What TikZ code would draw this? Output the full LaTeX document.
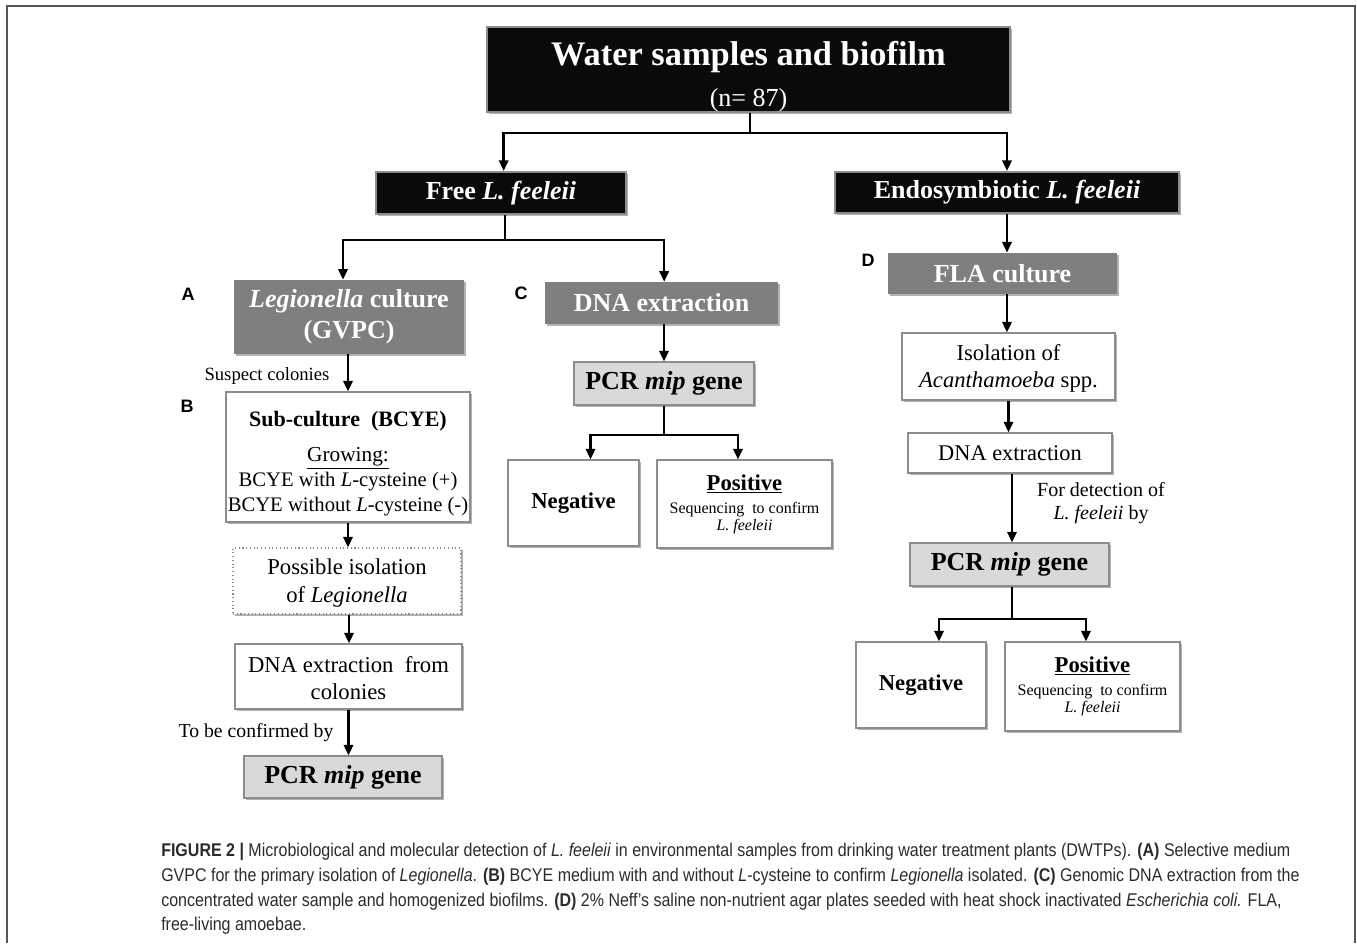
\documentclass[tikz,border=0pt]{standalone}
\usepackage{fontspec}
\setmainfont{Liberation Serif}
\newfontfamily\capfont[FakeStretch=0.87]{Liberation Sans}
\newfontfamily\labfont{Liberation Sans}
\usetikzlibrary{arrows.meta,shadows}
\definecolor{boxblack}{HTML}{0A0A0A}
\definecolor{boxgray}{HTML}{7F7F7F}
\definecolor{boxlight}{HTML}{D9D9D9}
\definecolor{edgegray}{HTML}{8C8C8C}
\definecolor{captext}{HTML}{2B2B2B}
\definecolor{framegray}{HTML}{555555}
\newcommand\fsz[2]{\fontsize{#1}{#2}\selectfont}
\tikzset{
  soft/.style={drop shadow={shadow xshift=1.5pt,shadow yshift=-1.5pt,opacity=0.3,fill=black}},
  blackbox/.style={soft,draw=edgegray,line width=1.5pt,fill=boxblack,text=white,font=\bfseries\fsz{19.5}{23},inner sep=0pt,align=center},
  graybox/.style={soft,fill=boxgray,text=white,font=\bfseries\fsz{19.5}{23.25},inner sep=0pt,align=center},
  lightbox/.style={soft,fill=boxlight,draw=edgegray,line width=0.8pt,font=\bfseries\fsz{19.5}{23},inner sep=0pt,align=center},
  whitebox/.style={soft,fill=white,draw=edgegray,line width=0.8pt,font=\fsz{17}{20.25},inner sep=0pt,align=center},
  dotbox/.style={whitebox,dotted},
  conn/.style={line width=1.8pt},
  arr/.style={line width=1.8pt,-{Triangle[length=8pt,width=7pt]}},
  panel/.style={font=\labfont\bfseries\fsz{13.5}{15}},
  note/.style={font=\fsz{14}{18}},
  capline/.style={anchor=base west,inner sep=0pt,text=captext,font=\capfont\fsz{13.8}{16}}
}
\begin{document}
\begin{tikzpicture}[x=0.75pt,y=-0.75pt]
\useasboundingbox (0,0) rectangle (1357,943);
% frame
\draw[framegray,line width=1.5pt] (7,943) -- (7,6) -- (1355,6) -- (1355,943);

% boxes
\node[blackbox,minimum width=392.25pt,minimum height=63.75pt,font=\bfseries\fsz{25.8}{31}] (top) at (748.5,69.5)
  {\rule{0pt}{29pt}Water samples and biofilm\\{\mdseries\fsz{19.5}{22}(n= 87)}};
\node[blackbox,minimum width=187.5pt,minimum height=31.5pt] (free) at (501,193) {Free \textit{L. feeleii}};
\node[blackbox,minimum width=258pt,minimum height=30.75pt] (endo) at (1007,192.5) {Endosymbiotic \textit{L. feeleii}};

\node[graybox,minimum width=172.5pt,minimum height=55.5pt] (legcult) at (349,317) {\textit{Legionella} culture\\(GVPC)};
\node[graybox,minimum width=174.75pt,minimum height=31.5pt] (dnaC) at (661.5,303) {DNA extraction};
\node[lightbox,minimum width=135pt,minimum height=32.25pt] (pcrC) at (664,383.5) {PCR \textit{mip} gene};
\node[whitebox,minimum width=98.25pt,minimum height=64.5pt,font=\bfseries\fsz{17}{20}] (negC) at (573.5,503) {Negative};
\node[whitebox,minimum width=131.25pt,minimum height=66pt,font=\fsz{12}{12.75}] (posC) at (744.5,504)
  {{\bfseries\fsz{17}{20}\underline{Positive}}\\[4.5pt]Sequencing\ \ to confirm\\\textit{L. feeleii}};

\node[whitebox,minimum width=183pt,minimum height=97.5pt,font=\fsz{15.5}{18.75}] (sub) at (348,457)
  {{\bfseries\fsz{16.5}{20}\rule{0pt}{22pt}Sub-culture\ \ (BCYE)}\\[7.5pt]{\fsz{16}{18.75}\underline{Growing:}}\\BCYE with \textit{L}-cysteine (+)\\BCYE without \textit{L}-cysteine (-)};
\node[dotbox,minimum width=171pt,minimum height=49.5pt,font=\fsz{17}{21}] (poss) at (347,581) {\rule{0pt}{15pt}Possible isolation\\of \textit{Legionella}};
\node[whitebox,minimum width=170.25pt,minimum height=48.75pt] (dnacol) at (348.5,676.5) {\rule{0pt}{14.5pt}DNA extraction\ \ from\\colonies};
\node[lightbox,minimum width=148.5pt,minimum height=31.5pt] (pcrL) at (343,777) {PCR \textit{mip} gene};

\node[graybox,minimum width=171.75pt,minimum height=31pt] (fla) at (1002.5,273.5) {FLA culture};
\node[whitebox,minimum width=159.75pt,minimum height=50.25pt] (acan) at (1008.5,366.5) {\rule{0pt}{15pt}Isolation of\\\textit{Acanthamoeba} spp.};
\node[whitebox,minimum width=153pt,minimum height=30pt,font=\fsz{16.8}{20}] (dnaD) at (1010,453) {DNA extraction};
\node[lightbox,minimum width=149.25pt,minimum height=32.25pt] (pcrD) at (1009.5,564.5) {PCR \textit{mip} gene};
\node[whitebox,minimum width=97.5pt,minimum height=64.5pt,font=\bfseries\fsz{17}{20}] (negD) at (921,685) {Negative};
\node[whitebox,minimum width=131.25pt,minimum height=66.75pt,font=\fsz{12}{12.75}] (posD) at (1092.5,686.5)
  {{\bfseries\fsz{17}{20}\underline{Positive}}\\[4.5pt]Sequencing\ \ to confirm\\\textit{L. feeleii}};

% panel labels
\node[panel] (labA) at (188,294) {A};
\node[panel] (labB) at (187,406) {B};
\node[panel] (labC) at (521,293) {C};
\node[panel] (labD) at (868,260) {D};

% notes
\node[note] (suspect) at (267,376) {Suspect colonies};
\node[note,font=\fsz{14.8}{18}] (confirm) at (256,733) {To be confirmed by};
\node[note,font=\fsz{15}{17.5},align=center] (detect) at (1101,503) {For detection of\\\textit{L. feeleii} by};

% junctions
\coordinate (j1) at (750,133);
\coordinate (j2) at (505,240);
\coordinate (j3) at (664,435);
\coordinate (j4) at (1012,619);

% connectors
\draw[conn] (top.south -| j1) -- (j1);
\draw[arr] (j1) -| ([xshift=2pt]free.north);
\draw[arr] (j1) -| (endo.north);
\draw[conn] (free.south -| j2) -- (j2);
\draw[arr] (j2) -| ([xshift=-4.5pt]legcult.north);
\draw[arr] (j2) -| ([xshift=2pt]dnaC.north);
\draw[arr] (dnaC.south -| pcrC.north) -- (pcrC.north);
\draw[conn] (pcrC.south) -- (j3);
\draw[arr] (j3) -| ([xshift=12.75pt]negC.north);
\draw[arr] (j3) -| ([xshift=-4.9pt]posC.north);

\draw[arr] (legcult.south -| sub.north) -- (sub.north);
\draw[arr] (sub.south) -- (sub.south |- poss.north);
\draw[arr] ([xshift=1.5pt]poss.south) -- ([xshift=1.5pt]poss.south |- dnacol.north);
\draw[arr] (dnacol.south) -- (dnacol.south |- pcrL.north);

\draw[arr] (endo.south) -- (endo.south |- fla.north);
\draw[arr] (endo.south |- fla.south) -- (endo.south |- acan.north);
\draw[arr] (acan.south) -- (acan.south |- dnaD.north);
\draw[arr] ([xshift=1.5pt]dnaD.south) -- ([xshift=1.5pt]dnaD.south |- pcrD.north);
\draw[conn] (pcrD.south -| j4) -- (j4);
\draw[arr] (j4) -| ([xshift=13.5pt]negD.north);
\draw[arr] (j4) -| ([xshift=-4.9pt]posD.north);

% caption
\node[capline] (cap1) at (161,856) {\textbf{FIGURE 2 |} Microbiological and molecular detection of \textit{L. feeleii} in environmental samples from drinking water treatment plants (DWTPs). \textbf{(A)} Selective medium};
\node[capline] (cap2) at (161,881) {GVPC for the primary isolation of \textit{Legionella}. \textbf{(B)} BCYE medium with and without \textit{L}-cysteine to confirm \textit{Legionella} isolated. \textbf{(C)} Genomic DNA extraction from the};
\node[capline] (cap3) at (161,906) {concentrated water sample and homogenized biofilms. \textbf{(D)} 2\% Neff’s saline non-nutrient agar plates seeded with heat shock inactivated \textit{Escherichia coli.} FLA,};
\node[capline] (cap4) at (161,930) {free-living amoebae.};
\end{tikzpicture}
\end{document}
